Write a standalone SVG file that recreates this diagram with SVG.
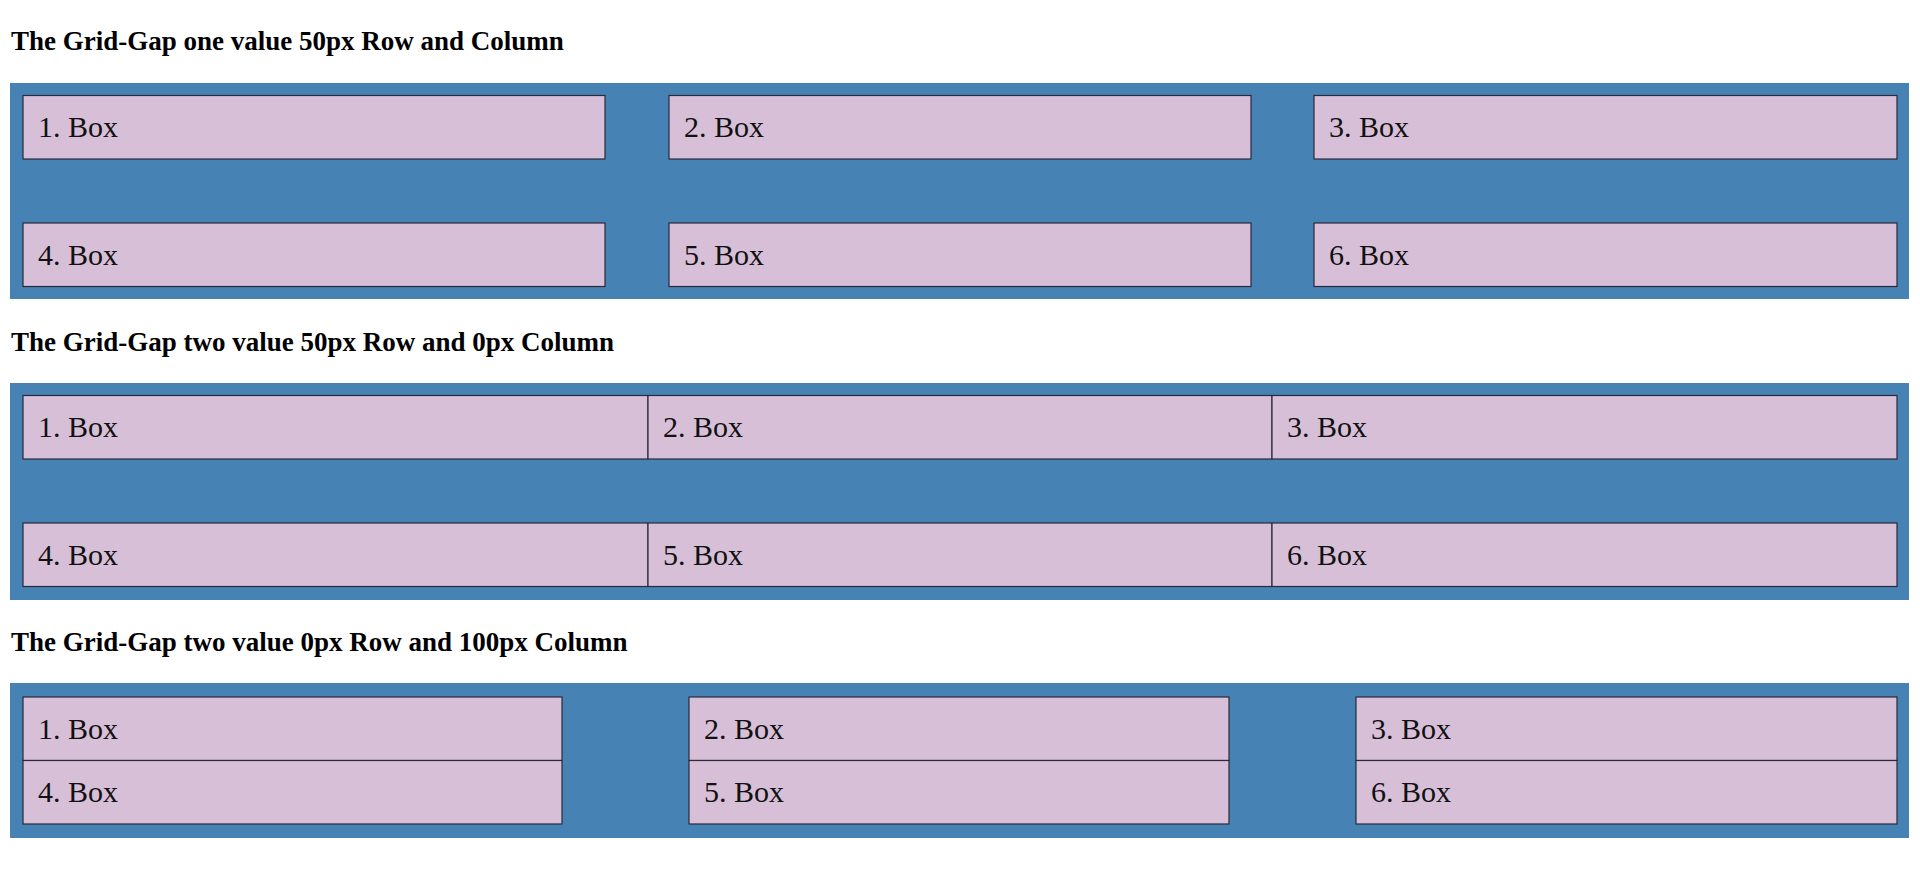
<svg xmlns="http://www.w3.org/2000/svg" width="1920" height="887" viewBox="0 0 1920 887">
<style>
.h{font-family:"Liberation Serif",serif;font-weight:bold;font-size:27px;fill:#000}
.c{fill:#4682b4}
.b{fill:#d8bfd8;stroke:#2a2a3a;stroke-width:1.2}
.t{font-family:"Liberation Serif",serif;font-size:30px;fill:#111}
</style>
<rect width="1920" height="887" fill="#fff"/>
<text class="h" x="11" y="50">The Grid-Gap one value 50px Row and Column</text>
<text class="h" x="11" y="351">The Grid-Gap two value 50px Row and 0px Column</text>
<text class="h" x="11" y="651">The Grid-Gap two value 0px Row and 100px Column</text>
<rect class="c" x="10" y="83" width="1899" height="216"/>
<rect class="c" x="10" y="383" width="1899" height="217"/>
<rect class="c" x="10" y="683" width="1899" height="155"/>
<g id="g1">
<g id="g1b1"><rect class="b" x="23" y="95.5" width="582" height="63.5"/><text class="t" x="38" y="137">1. Box</text></g>
<g id="g1b2"><rect class="b" x="669" y="95.5" width="582" height="63.5"/><text class="t" x="684" y="137">2. Box</text></g>
<g id="g1b3"><rect class="b" x="1314" y="95.5" width="583" height="63.5"/><text class="t" x="1329" y="137">3. Box</text></g>
<g id="g1b4"><rect class="b" x="23" y="223" width="582" height="63.5"/><text class="t" x="38" y="265">4. Box</text></g>
<g id="g1b5"><rect class="b" x="669" y="223" width="582" height="63.5"/><text class="t" x="684" y="265">5. Box</text></g>
<g id="g1b6"><rect class="b" x="1314" y="223" width="583" height="63.5"/><text class="t" x="1329" y="265">6. Box</text></g>
</g>
<g id="g2">
<g id="g2b1"><rect class="b" x="23" y="395.5" width="625" height="63.5"/><text class="t" x="38" y="437">1. Box</text></g>
<g id="g2b2"><rect class="b" x="648" y="395.5" width="624" height="63.5"/><text class="t" x="663" y="437">2. Box</text></g>
<g id="g2b3"><rect class="b" x="1272" y="395.5" width="625" height="63.5"/><text class="t" x="1287" y="437">3. Box</text></g>
<g id="g2b4"><rect class="b" x="23" y="523" width="625" height="63.5"/><text class="t" x="38" y="565">4. Box</text></g>
<g id="g2b5"><rect class="b" x="648" y="523" width="624" height="63.5"/><text class="t" x="663" y="565">5. Box</text></g>
<g id="g2b6"><rect class="b" x="1272" y="523" width="625" height="63.5"/><text class="t" x="1287" y="565">6. Box</text></g>
</g>
<g id="g3">
<g id="g3b1"><rect class="b" x="23" y="697" width="539" height="63.5"/><text class="t" x="38" y="739">1. Box</text></g>
<g id="g3b2"><rect class="b" x="689" y="697" width="540" height="63.5"/><text class="t" x="704" y="739">2. Box</text></g>
<g id="g3b3"><rect class="b" x="1356" y="697" width="541" height="63.5"/><text class="t" x="1371" y="739">3. Box</text></g>
<g id="g3b4"><rect class="b" x="23" y="760.5" width="539" height="63.5"/><text class="t" x="38" y="802">4. Box</text></g>
<g id="g3b5"><rect class="b" x="689" y="760.5" width="540" height="63.5"/><text class="t" x="704" y="802">5. Box</text></g>
<g id="g3b6"><rect class="b" x="1356" y="760.5" width="541" height="63.5"/><text class="t" x="1371" y="802">6. Box</text></g>
</g>
<g id="connectors"/>
</svg>
